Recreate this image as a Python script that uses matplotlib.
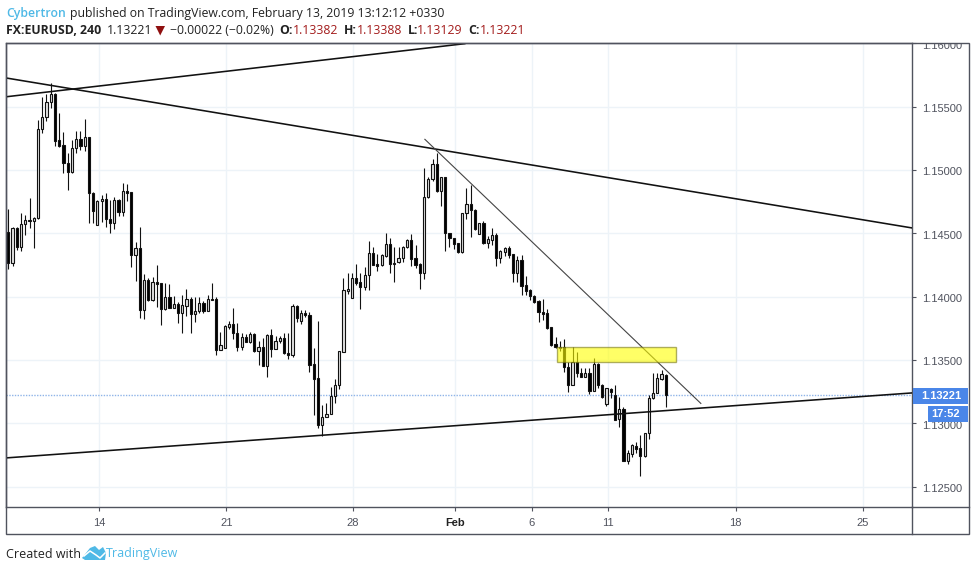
import matplotlib
matplotlib.use('Agg')
import matplotlib.pyplot as plt
from matplotlib.lines import Line2D
from matplotlib.patches import Rectangle, Polygon
from matplotlib.transforms import Bbox, ScaledTranslation, TransformedBbox

W, H = 976, 571

opens = [1.14513, 1.14268, 1.14539, 1.14394, 1.14571, 1.14600, 1.14600, 1.14618, 1.15320, 1.15415,
         1.15534, 1.15599, 1.15236, 1.15194, 1.15052, 1.14986, 1.15170, 1.15242, 1.15192, 1.15260,
         1.14815, 1.14565, 1.14752, 1.14773, 1.14615, 1.14584, 1.14763, 1.14671, 1.14836, 1.14823,
         1.14329, 1.14381, 1.13894, 1.14129, 1.13973, 1.14113, 1.14105, 1.13900, 1.13994, 1.13913,
         1.13939, 1.13873, 1.13929, 1.13979, 1.13860, 1.13884, 1.13947, 1.13887, 1.13979, 1.13979,
         1.13579, 1.13597, 1.13763, 1.13781, 1.13710, 1.13605, 1.13679, 1.13644, 1.13705, 1.13571,
         1.13605, 1.13455, 1.13694, 1.13589, 1.13652, 1.13676, 1.13558, 1.13539, 1.13926, 1.13810,
         1.13868, 1.13852, 1.13466, 1.13355, 1.12987, 1.13050, 1.13076, 1.13218, 1.13300, 1.13566,
         1.14044, 1.13992, 1.14144, 1.14113, 1.14079, 1.14168, 1.14342, 1.14255, 1.14247, 1.14321,
         1.14413, 1.14255, 1.14271, 1.14302, 1.14389, 1.14444, 1.14302, 1.14255, 1.14189, 1.14784,
         1.14926, 1.15044, 1.14836, 1.14944, 1.14500, 1.14460, 1.14421, 1.14355, 1.14657, 1.14728,
         1.14684, 1.14494, 1.14578, 1.14426, 1.14450, 1.14484, 1.14307, 1.14355, 1.14381, 1.14334,
         1.14189, 1.14289, 1.14092, 1.14050, 1.14008, 1.13965, 1.13881, 1.13868, 1.13758, 1.13623,
         1.13600, 1.13600, 1.13447, 1.13302, 1.13487, 1.13400, 1.13368, 1.13395, 1.13255, 1.13468,
         1.13302, 1.13152, 1.13273, 1.13224, 1.13031, 1.13110, 1.12703, 1.12758, 1.12824, 1.12803,
         1.12742, 1.12926, 1.13197, 1.13242, 1.13350, 1.13382]
highs = [1.14689, 1.14552, 1.14552, 1.14657, 1.14644, 1.14776, 1.14631, 1.15394, 1.15573, 1.15597,
         1.15684, 1.15605, 1.15447, 1.15297, 1.15131, 1.15236, 1.15310, 1.15310, 1.15402, 1.15263,
         1.14828, 1.14763, 1.14802, 1.14815, 1.14763, 1.14789, 1.14768, 1.14894, 1.14886, 1.14823,
         1.14434, 1.14547, 1.14176, 1.14144, 1.14152, 1.14250, 1.14105, 1.14105, 1.14097, 1.14008,
         1.13960, 1.14013, 1.14058, 1.14000, 1.14000, 1.13994, 1.13965, 1.14013, 1.14105, 1.14000,
         1.13718, 1.13776, 1.13810, 1.13908, 1.13794, 1.13710, 1.13705, 1.13723, 1.13710, 1.13650,
         1.13671, 1.13705, 1.13742, 1.13692, 1.13692, 1.13716, 1.13710, 1.13939, 1.13934, 1.13894,
         1.13894, 1.13881, 1.13592, 1.13808, 1.13145, 1.13158, 1.13284, 1.13347, 1.13571, 1.14144,
         1.14184, 1.14184, 1.14255, 1.14184, 1.14231, 1.14439, 1.14394, 1.14336, 1.14336, 1.14500,
         1.14460, 1.14394, 1.14394, 1.14400, 1.14452, 1.14492, 1.14407, 1.14263, 1.15013, 1.14947,
         1.15086, 1.15131, 1.14947, 1.14947, 1.14500, 1.14460, 1.14426, 1.14663, 1.14855, 1.14881,
         1.14689, 1.14584, 1.14600, 1.14479, 1.14539, 1.14500, 1.14368, 1.14389, 1.14397, 1.14336,
         1.14321, 1.14329, 1.14165, 1.14058, 1.14013, 1.13973, 1.13979, 1.13900, 1.13758, 1.13684,
         1.13650, 1.13666, 1.13487, 1.13605, 1.13560, 1.13434, 1.13434, 1.13434, 1.13518, 1.13473,
         1.13308, 1.13276, 1.13276, 1.13302, 1.13210, 1.13126, 1.12789, 1.12837, 1.12855, 1.12908,
         1.12926, 1.13224, 1.13395, 1.13395, 1.13421, 1.13388]
lows = [1.14221, 1.14244, 1.14368, 1.14363, 1.14486, 1.14544, 1.14386, 1.14613, 1.15289, 1.15389,
        1.15486, 1.15192, 1.15178, 1.14973, 1.14842, 1.14973, 1.15131, 1.15157, 1.15152, 1.14584,
        1.14584, 1.14565, 1.14592, 1.14547, 1.14505, 1.14531, 1.14636, 1.14636, 1.14755, 1.14236,
        1.14126, 1.13834, 1.13823, 1.13968, 1.13968, 1.13921, 1.13776, 1.13894, 1.13908, 1.13913,
        1.13794, 1.13716, 1.13847, 1.13710, 1.13802, 1.13868, 1.13868, 1.13887, 1.13973, 1.13539,
        1.13579, 1.13597, 1.13742, 1.13666, 1.13571, 1.13579, 1.13644, 1.13631, 1.13566, 1.13460,
        1.13455, 1.13363, 1.13526, 1.13587, 1.13631, 1.13545, 1.13508, 1.13526, 1.13802, 1.13784,
        1.13837, 1.13408, 1.13066, 1.12960, 1.12903, 1.13047, 1.13071, 1.13158, 1.13274, 1.13566,
        1.14021, 1.13987, 1.14092, 1.13902, 1.14052, 1.14052, 1.14250, 1.14202, 1.14242, 1.14315,
        1.14184, 1.14113, 1.14263, 1.14276, 1.14381, 1.14242, 1.14223, 1.14060, 1.14139, 1.14776,
        1.14913, 1.14828, 1.14715, 1.14363, 1.14389, 1.14376, 1.14347, 1.14347, 1.14610, 1.14473,
        1.14526, 1.14492, 1.14415, 1.14381, 1.14407, 1.14244, 1.14263, 1.14321, 1.14302, 1.14113,
        1.14118, 1.14013, 1.14013, 1.13973, 1.13952, 1.13802, 1.13816, 1.13742, 1.13610, 1.13592,
        1.13571, 1.13408, 1.13250, 1.13302, 1.13363, 1.13363, 1.13363, 1.13231, 1.13255, 1.13276,
        1.13197, 1.13137, 1.13197, 1.13026, 1.12968, 1.12703, 1.12676, 1.12737, 1.12763, 1.12584,
        1.12732, 1.12876, 1.13189, 1.13237, 1.13342, 1.13129]
closes = [1.14268, 1.14539, 1.14394, 1.14571, 1.14605, 1.14605, 1.14618, 1.15320, 1.15415, 1.15536,
          1.15597, 1.15228, 1.15192, 1.15052, 1.14986, 1.15170, 1.15242, 1.15192, 1.15257, 1.14815,
          1.14678, 1.14755, 1.14773, 1.14615, 1.14584, 1.14760, 1.14668, 1.14836, 1.14821, 1.14329,
          1.14381, 1.13894, 1.14129, 1.13973, 1.14113, 1.14100, 1.13900, 1.13994, 1.13913, 1.13939,
          1.13873, 1.13931, 1.13979, 1.13860, 1.13884, 1.13947, 1.13887, 1.13979, 1.13973, 1.13579,
          1.13616, 1.13768, 1.13781, 1.13710, 1.13605, 1.13679, 1.13644, 1.13705, 1.13571, 1.13605,
          1.13455, 1.13694, 1.13589, 1.13652, 1.13676, 1.13552, 1.13539, 1.13926, 1.13834, 1.13868,
          1.13852, 1.13460, 1.13347, 1.12987, 1.13053, 1.13076, 1.13218, 1.13300, 1.13571, 1.14050,
          1.14058, 1.14144, 1.14110, 1.14079, 1.14168, 1.14342, 1.14250, 1.14244, 1.14329, 1.14413,
          1.14255, 1.14268, 1.14302, 1.14392, 1.14444, 1.14297, 1.14250, 1.14189, 1.14784, 1.14926,
          1.15044, 1.14834, 1.14944, 1.14500, 1.14460, 1.14415, 1.14355, 1.14657, 1.14728, 1.14681,
          1.14534, 1.14581, 1.14421, 1.14452, 1.14484, 1.14307, 1.14360, 1.14381, 1.14329, 1.14189,
          1.14289, 1.14087, 1.14044, 1.14008, 1.13960, 1.13881, 1.13863, 1.13750, 1.13618, 1.13600,
          1.13592, 1.13447, 1.13302, 1.13487, 1.13400, 1.13368, 1.13395, 1.13255, 1.13468, 1.13302,
          1.13205, 1.13276, 1.13245, 1.13026, 1.13110, 1.12703, 1.12763, 1.12829, 1.12797, 1.12742,
          1.12926, 1.13197, 1.13242, 1.13355, 1.13389, 1.13221]

# trend lines, bar index / price
up_line_x = [-0.47, 107.6]
up_line_y = [1.15578, 1.15997]
down_line_x = [-0.47, 213.1]
down_line_y = [1.15726, 1.14542]
support_x = [-0.47, 213.1]
support_y = [1.12727, 1.13240]
thin_x = [98.2, 163.25]
thin_y = [1.15242, 1.13157]
zone_x = [129.25, 157.3]
zone_y = [1.13488, 1.13605]

last_price = 1.13221
price_ticks = [1.125, 1.13, 1.135, 1.14, 1.145, 1.15, 1.155, 1.16]
date_ticks = [21.38, 51.4, 81.2, 105.3, 123.4, 141.3, 171.5, 201.4]
date_labels = ['14', '21', '28', 'Feb', '6', '11', '18', '25']

FRAME = '#50535e'
GRID = '#edf3f8'
TICK_TXT = '#50535e'
BLUE = '#4a86e8'
LOGO = '#4fb9e6'
RED = '#a31c1c'
HEAD = 'Open Sans'


def fx(px):
    return px / W


def fy(py):
    return 1 - py / H


def head(x, y, s, color='#222222', weight='normal', size=8.8):
    fig.text(fx(x), fy(y), s, color=color, fontweight=weight, fontsize=size,
             family=HEAD, va='center', ha='left')


fig = plt.figure(figsize=(W / 100, H / 100), dpi=100)
ax = fig.add_axes([fx(6.3), fy(507.3), fx(912.3 - 6.3), (507.3 - 43.3) / H])
ax.set_xlim(-0.47, 213.1)
ax.set_ylim(1.12337, 1.15999)

ax.set_axisbelow(True)
ax.grid(True, color=GRID, linewidth=1)
ax.axhline(last_price, color='#8fb4e8', linewidth=1, linestyle=(0, (1, 1)), zorder=1)

for i in range(len(opens)):
    bull = closes[i] >= opens[i]
    ax.vlines(i, lows[i], highs[i], color='#111111', linewidth=0.8, zorder=2)
    bottom = min(opens[i], closes[i])
    height = abs(closes[i] - opens[i])
    ax.bar(i, height, width=0.52, bottom=bottom, color='#e4e4e4' if bull else 'black',
           edgecolor='#111111', linewidth=0.8, zorder=3)

ax.plot(up_line_x, up_line_y, color='#111111', linewidth=1.15, zorder=4)
ax.plot(down_line_x, down_line_y, color='#111111', linewidth=1.15, zorder=4)
ax.plot(support_x, support_y, color='#111111', linewidth=1.15, zorder=4)
ax.plot(thin_x, thin_y, color='#444444', linewidth=0.8, zorder=4)
ax.add_patch(Rectangle((zone_x[0], zone_y[0]), zone_x[1] - zone_x[0], zone_y[1] - zone_y[0],
                       facecolor='#ffff00', alpha=0.6, edgecolor='#77771a', linewidth=1, zorder=5))

ax.yaxis.tick_right()
ax.set_yticks(price_ticks)
ax.set_yticklabels(['%.5f' % p for p in price_ticks], fontsize=8, family='Liberation Sans', color=TICK_TXT)
ax.set_xticks(date_ticks)
ax.set_xticklabels(date_labels, fontsize=8, family='Liberation Sans', color=TICK_TXT)
ax.get_xticklabels()[3].set_fontweight('bold')
ax.get_xticklabels()[3].set_color('#222222')
ax.tick_params(axis='both', color=FRAME, length=3.2, width=0.8)
ax.tick_params(axis='y', pad=3.5)
ax.tick_params(axis='x', pad=4.5)
for sp in ax.spines.values():
    sp.set_color(FRAME)
    sp.set_linewidth(1)

# labels sit a bit under their ticks, the top one is cut by the frame line
label_shift = ScaledTranslation(0, -1.5 / 100, fig.dpi_scale_trans)
top_clip = TransformedBbox(Bbox([[0, 0], [1, fy(43.5)]]), fig.transFigure)
for lab in ax.get_yticklabels():
    lab.set_transform(lab.get_transform() + label_shift)
    lab.set_clip_box(top_clip)
    lab.set_clip_on(True)

# outer frame of the price scale and time scale
fig.add_artist(Rectangle((fx(6.3), fy(534)), fx(969.3 - 6.3), (534 - 43.3) / H, fill=False,
                         edgecolor=FRAME, linewidth=1, transform=fig.transFigure))
fig.add_artist(Line2D([fx(912.3), fx(912.3)], [fy(507.3), fy(534)], color=FRAME, linewidth=1))
fig.add_artist(Line2D([fx(912.3), fx(969.3)], [fy(507.3), fy(507.3)], color=FRAME, linewidth=1))

# last price and countdown labels
fig.add_artist(Rectangle((fx(912.5), fy(404.3)), fx(55.5), 16.6 / H, facecolor=BLUE, edgecolor='none',
                         transform=fig.transFigure, zorder=6))
fig.add_artist(Rectangle((fx(928), fy(422.3)), fx(40), 16.6 / H, facecolor=BLUE, edgecolor='none',
                         transform=fig.transFigure, zorder=6))
fig.text(fx(921.5), fy(396.3), '%.5f' % last_price, color='white', fontsize=8, fontweight='bold',
         family='Liberation Sans', va='center', ha='left', zorder=7)
fig.text(fx(946), fy(414.3), '17:52', color='white', fontsize=8, fontweight='bold',
         family='Liberation Sans', va='center', ha='center', zorder=7)

# header
head(6, 13, 'Cybertron', color=LOGO, weight='semibold')
head(70, 13, 'published on TradingView.com, February 13, 2019 13:12:12 +0330')
head(6, 30.5, 'FX:EURUSD, 240', weight='bold')
head(107, 30.5, '1.13221')
fig.add_artist(Polygon([[fx(155.5), fy(26)], [fx(165), fy(26)], [fx(160.2), fy(35.5)]], closed=True,
                       facecolor='#8f0f0f', edgecolor='none', transform=fig.transFigure))
head(170, 30.5, '\u22120.00022 (\u22120.02%)')
head(279.5, 30.5, 'O:', weight='bold')
head(293, 30.5, '1.13382', color=RED)
head(343.5, 30.5, 'H:', weight='bold')
head(357, 30.5, '1.13388', color=RED)
head(407.5, 30.5, 'L:', weight='bold')
head(417, 30.5, '1.13129', color=RED)
head(468.5, 30.5, 'C:', weight='bold')
head(480, 30.5, '1.13221', color=RED)

# footer
head(6, 554, 'Created with', size=9)
fig.add_artist(Polygon([[fx(82), fy(558)], [fx(90), fy(548)], [fx(95), fy(546)], [fx(99), fy(550)],
                        [fx(103), fy(547)], [fx(106), fy(553)], [fx(105), fy(560)], [fx(85), fy(560)]],
                       closed=True, facecolor=LOGO, edgecolor='none', transform=fig.transFigure))
fig.add_artist(Line2D([fx(84), fx(90), fx(96), fx(100), fx(105)], [fy(556), fy(551), fy(555), fy(558), fy(553)],
                      color='white', linewidth=1.1))
head(106, 554, 'TradingView', color=LOGO, size=9)

fig.savefig('out.png', dpi=100)
